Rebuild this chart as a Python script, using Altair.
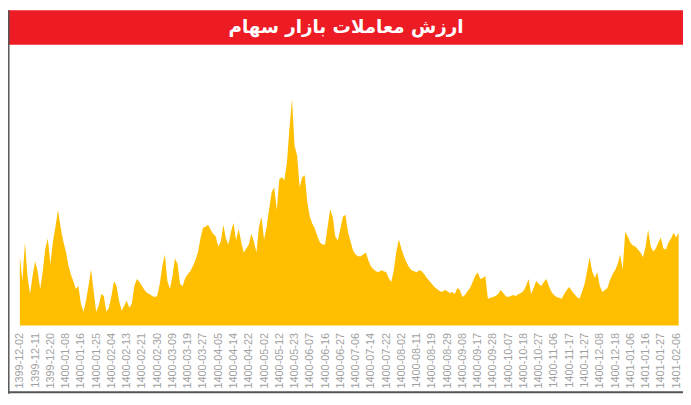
import json
import altair as alt
import pandas as pd

title_text = "ارزش معاملات بازار سهام"

date_labels = [
    "1399-12-02", "1399-12-11", "1399-12-20", "1400-01-08", "1400-01-16",
    "1400-01-25", "1400-02-04", "1400-02-13", "1400-02-21", "1400-02-30",
    "1400-03-09", "1400-03-19", "1400-03-27", "1400-04-05", "1400-04-14",
    "1400-04-22", "1400-05-02", "1400-05-12", "1400-05-23", "1400-06-07",
    "1400-06-16", "1400-06-27", "1400-07-06", "1400-07-14", "1400-07-22",
    "1400-08-02", "1400-08-11", "1400-08-19", "1400-08-29", "1400-09-08",
    "1400-09-17", "1400-09-28", "1400-10-07", "1400-10-18", "1400-10-27",
    "1400-11-06", "1400-11-17", "1400-11-27", "1400-12-08", "1400-12-18",
    "1401-01-06", "1401-01-16", "1401-01-27", "1401-02-06",
]

values = [
    70, 45, 84, 50, 32, 50,
    65, 55, 37, 55, 78, 88,
    62, 85, 100, 117, 100, 86,
    76, 62, 52, 45, 37, 40,
    22, 14, 25, 40, 57, 35,
    14, 20, 32, 30, 14, 18,
    30, 45, 40, 25, 15, 20,
    25, 18, 22, 40, 47, 44,
    40, 36, 33, 32, 30, 29,
    30, 42, 60, 72, 45, 37,
    50, 68, 62, 42, 40, 48,
    52, 55, 60, 66, 74, 88,
    99, 100, 102, 97, 93, 90,
    80, 85, 102, 88, 82, 95,
    104, 86, 98, 85, 74, 78,
    82, 93, 85, 74, 100, 110,
    87, 100, 118, 135, 140, 117,
    148, 150, 147, 165, 200, 229,
    182, 172, 140, 150, 152, 125,
    110, 103, 98, 90, 84, 82,
    82, 100, 118, 110, 90, 86,
    98, 110, 112, 95, 85, 76,
    72, 70, 70, 72, 74, 66,
    60, 57, 55, 54, 56, 55,
    54, 48, 44, 56, 75, 87,
    78, 70, 64, 59, 56, 55,
    54, 56, 55, 52, 48, 45,
    42, 39, 37, 35, 34, 36,
    35, 33, 34, 32, 38, 36,
    29, 31, 35, 38, 44, 50,
    54, 47, 48, 50, 27, 28,
    29, 30, 32, 36, 33, 30,
    29, 30, 31, 30, 32, 33,
    35, 40, 47, 32, 38, 45,
    42, 40, 44, 47, 40, 34,
    31, 29, 28, 27, 32, 36,
    39, 35, 32, 29, 27, 34,
    42, 55, 69, 55, 48, 54,
    40, 34, 36, 38, 46, 52,
    56, 62, 72, 57, 95, 90,
    84, 81, 80, 77, 74, 69,
    80, 97, 80, 75, 78, 84,
    89, 78, 77, 84, 88, 94,
    89, 94,
]

label_step = 6
label_idx = [i * label_step for i in range(len(date_labels))]
label_expr = json.dumps(date_labels) + "[round(datum.value/6)]"

df = pd.DataFrame({"idx": list(range(len(values))), "value": values})
tdf = pd.DataFrame({"t": [title_text]})

W = 683
PLOT_H = 321
TOTAL_H = 388

area = alt.Chart(df).mark_area(color="#FFBF00", interpolate="linear").encode(
    x=alt.X(
        "idx:Q",
        scale=alt.Scale(domain=[0, len(values) - 1], range=[12, 678.6], nice=False, zero=False),
        axis=alt.Axis(
            values=label_idx, labelExpr=label_expr, labelAngle=270,
            labelFontSize=11, labelColor="#a0a0a0", labelFont="Liberation Sans",
            domain=False, ticks=False, grid=False, labelPadding=5, title=None,
            labelOverlap=False, labelBound=False, labelFlush=False,
        ),
    ),
    y=alt.Y("value:Q", scale=alt.Scale(domain=[0, 319], range=[319, 0], nice=False), axis=None),
)

bar = alt.Chart(tdf).mark_rect(color="#ED1C24").encode(
    x=alt.value(0), x2=alt.value(W), y=alt.value(0), y2=alt.value(35)
)

title = alt.Chart(tdf).mark_text(
    color="white", font="DejaVu Sans", fontWeight="bold", fontSize=18.5,
    align="center", baseline="middle",
).encode(x=alt.value(342), y=alt.value(17), text="t:N")

left_line = alt.Chart(tdf).mark_rule(color="#555555", strokeWidth=1.5).encode(
    x=alt.value(0.8), y=alt.value(0), y2=alt.value(TOTAL_H)
)
bottom_line = alt.Chart(tdf).mark_rule(color="#555555", strokeWidth=2).encode(
    x=alt.value(0), x2=alt.value(W), y=alt.value(386.5)
)

chart = alt.layer(area, bar, title, left_line, bottom_line).properties(
    width=W, height=PLOT_H,
    autosize=alt.AutoSizeParams(type="none"),
    padding={"left": 0, "top": 0, "right": 0, "bottom": TOTAL_H - PLOT_H},
).configure_view(stroke=None)

chart.save("out.html", embed_options={"renderer": "svg", "actions": False})
